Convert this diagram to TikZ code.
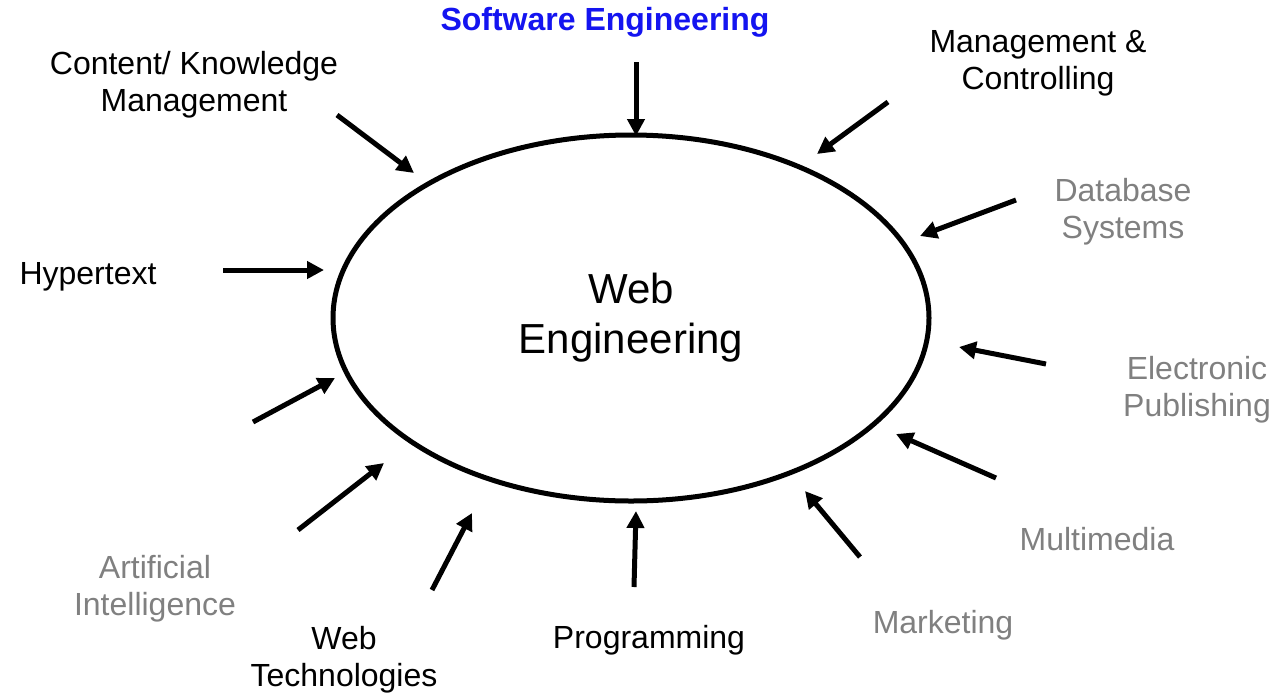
\documentclass[tikz,border=0pt]{standalone}
\usepackage{fontspec}
\setmainfont{Liberation Sans}
\usetikzlibrary{arrows.meta,shapes.geometric}
\definecolor{lbl}{RGB}{128,128,128}
\definecolor{seblue}{RGB}{20,20,240}
\begin{document}
\begin{tikzpicture}[x=1pt,y=-1pt,
  lab/.style={font=\fontsize{32}{37}\selectfont,align=center,inner sep=0pt},
  glab/.style={lab,text=lbl},
  arr/.style={line width=5pt,-{Triangle[length=17pt,width=17pt]}}]
\useasboundingbox (0,0) rectangle (1274,697);
\node[draw,line width=5pt,ellipse,minimum width=596pt,minimum height=366pt,inner sep=0pt,
  font=\fontsize{42}{50}\selectfont,align=center] (we) at (631,318) {Web\\Engineering};
\node[font=\fontsize{32}{36}\selectfont\bfseries,text=seblue,inner sep=0pt] (se) at (605,22) {Software Engineering};
\node[lab] (ck) at (194,85) {Content/ Knowledge\\Management};
\node[lab] (mc) at (1038,63) {Management \&\\Controlling};
\node[glab] (db) at (1123,212) {Database\\Systems};
\node[lab] (ht) at (88,277) {Hypertext};
\node[glab] (ep) at (1197,390) {Electronic\\Publishing};
\node[glab] (mm) at (1097,539) {Multimedia};
\node[glab] (ai) at (155,589) {Artificial\\Intelligence};
\node[lab] (wt) at (344,660) {Web\\Technologies};
\node[lab] (pr) at (649,640) {Programming};
\node[glab] (mk) at (943,625) {Marketing};
% arrow endpoints
\coordinate (a1s) at (636,62);   \coordinate (a1e) at (636,136);
\coordinate (a2s) at (337,115);  \coordinate (a2e) at (414,173);
\coordinate (a3s) at (888,102);  \coordinate (a3e) at (817,154);
\coordinate (a4s) at (1016,200); \coordinate (a4e) at (920,236);
\coordinate (a5s) at (223,270);  \coordinate (a5e) at (324,270);
\coordinate (a6s) at (1046,364); \coordinate (a6e) at (959,347);
\coordinate (a7s) at (253,422);  \coordinate (a7e) at (335,378);
\coordinate (a8s) at (996,478);  \coordinate (a8e) at (896,434);
\coordinate (a9s) at (298,530);  \coordinate (a9e) at (384,463);
\coordinate (a10s) at (432,590); \coordinate (a10e) at (472,513);
\coordinate (a11s) at (634,587); \coordinate (a11e) at (636,511);
\coordinate (a12s) at (860,557); \coordinate (a12e) at (805,491);
\foreach \i in {1,...,12}{\draw[arr] (a\i s) -- (a\i e);}
\end{tikzpicture}
\end{document}
